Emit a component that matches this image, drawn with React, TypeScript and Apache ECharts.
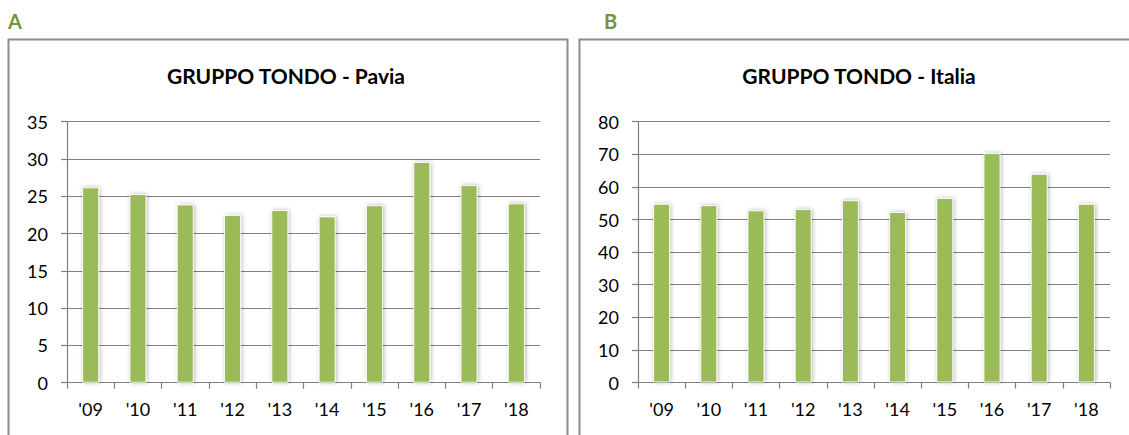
import React, { useEffect, useRef } from 'react';
import * as echarts from 'echarts';

const years = ["'09", "'10", "'11", "'12", "'13", "'14", "'15", "'16", "'17", "'18"];
const paviaValues = [26.2, 25.3, 23.9, 22.5, 23.15, 22.3, 23.8, 29.6, 26.5, 24.05];
const italiaValues = [54.8, 54.4, 52.8, 53.2, 55.9, 52.3, 56.6, 70.4, 64.0, 54.8];
const paviaAxis = { min: 0, max: 35, interval: 5 };
const italiaAxis = { min: 0, max: 80, interval: 10 };
const titles = ['GRUPPO TONDO - Pavia', 'GRUPPO TONDO - Italia'];
const panelLetters = ['A', 'B'];

const FONT = 'Lato, "Noto Sans", "DejaVu Sans", sans-serif';
const GRID_COLOR = '#7F7F7F';
const BAR_COLOR = '#9BBB59';
const LETTER_COLOR = '#77933C';

export default function App() {
  const ref = useRef<HTMLDivElement>(null);

  useEffect(() => {
    document.body.style.margin = '0';
    document.body.style.overflow = 'hidden';
    if (!ref.current) return;
    const chart = echarts.init(ref.current, undefined, { renderer: 'svg' });

    const xAxis = (gridIndex: number) => ({
      type: 'category' as const,
      gridIndex,
      data: years,
      boundaryGap: true,
      axisLine: { show: true, lineStyle: { color: GRID_COLOR, width: 1.2 } },
      axisTick: { show: true, length: 6, lineStyle: { color: GRID_COLOR, width: 1.2 } },
      axisLabel: { color: '#000', fontSize: 18, fontFamily: FONT, margin: 17 },
    });
    const yAxis = (gridIndex: number, ax: { min: number; max: number; interval: number }) => ({
      type: 'value' as const,
      gridIndex,
      min: ax.min,
      max: ax.max,
      interval: ax.interval,
      axisLine: { show: true, lineStyle: { color: GRID_COLOR, width: 1.2 } },
      axisTick: { show: true, length: 6, lineStyle: { color: GRID_COLOR, width: 1.2 } },
      axisLabel: { color: '#000', fontSize: 18, fontFamily: FONT, margin: 19 },
      splitLine: { show: true, lineStyle: { color: GRID_COLOR, width: 1.2 } },
    });
    const barStyle = {
      color: BAR_COLOR,
      borderColor: 'rgba(255,255,255,0.85)',
      borderWidth: 1,
      shadowBlur: 4,
      shadowColor: 'rgba(0,0,0,0.3)',
      shadowOffsetX: 1,
      shadowOffsetY: 0,
    };

    const boxX = [8.5, 579.5];
    const titleX = [286, 859];
    const letterX = [8, 604];

    const graphic: any[] = [];
    for (let i = 0; i < 2; i++) {
      graphic.push({
        type: 'rect',
        shape: { x: boxX[i], y: 39.5, width: 559, height: 430 },
        style: { fill: 'none', stroke: '#8C8C8C', lineWidth: 2 },
        silent: true,
        z: 0,
      });
      graphic.push({
        type: 'text',
        x: letterX[i],
        y: 11,
        style: {
          text: panelLetters[i],
          fill: LETTER_COLOR,
          font: `bold 20px ${FONT}`,
          textAlign: 'left',
          align: 'left',
          textVerticalAlign: 'top',
          verticalAlign: 'top',
        },
      });
      graphic.push({
        type: 'text',
        x: titleX[i],
        y: 75,
        style: {
          text: titles[i],
          fill: '#000',
          font: `bold 21px ${FONT}`,
          textAlign: 'center',
          align: 'center',
          textVerticalAlign: 'middle',
          verticalAlign: 'middle',
        },
      });
    }

    chart.setOption({
      animation: false,
      backgroundColor: '#fff',
      grid: [
        { left: 67, right: 1129 - 540, top: 121.7, bottom: 435 - 382.7 },
        { left: 638, right: 1129 - 1110, top: 121.7, bottom: 435 - 382.5 },
      ],
      xAxis: [xAxis(0), xAxis(1)],
      yAxis: [yAxis(0, paviaAxis), yAxis(1, italiaAxis)],
      series: [
        {
          type: 'bar',
          xAxisIndex: 0,
          yAxisIndex: 0,
          data: paviaValues,
          barWidth: '36%',
          itemStyle: barStyle,
          z: 3,
        },
        {
          type: 'bar',
          xAxisIndex: 1,
          yAxisIndex: 1,
          data: italiaValues,
          barWidth: '36%',
          itemStyle: barStyle,
          z: 3,
        },
      ],
      graphic,
    });

    return () => {
      chart.dispose();
    };
  }, []);

  return <div ref={ref} style={{ width: 1129, height: 435 }} />;
}
